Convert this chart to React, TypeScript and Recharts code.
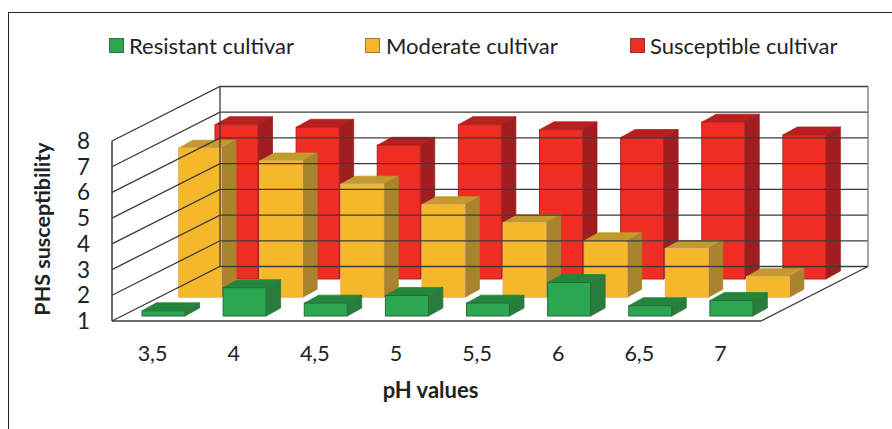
import React from 'react';
import { BarChart, Bar, XAxis, YAxis, ReferenceLine, Legend } from 'recharts';

const categories = ['3,5', '4', '4,5', '5', '5,5', '6', '6,5', '7'];
const resistant = [1.2, 2.1, 1.5, 1.8, 1.5, 2.3, 1.4, 1.6];
const moderate = [6.8, 6.3, 5.4, 4.6, 3.9, 3.2, 2.9, 1.8];
const susceptible = [7.0, 6.9, 6.2, 7.0, 6.8, 6.5, 7.1, 6.6];
const yTicks = [1, 2, 3, 4, 5, 6, 7, 8];
const legendOrder = ['Resistant cultivar', 'Moderate cultivar', 'Susceptible cultivar'];

const rows = categories.map((c, i) => ({
  c,
  resistant: resistant[i],
  moderate: moderate[i],
  susceptible: susceptible[i],
}));

const FONT = 'Lato, sans-serif';
const WALL_DX = 108;
const WALL_DY = 54.5;
const DEPTH_DX = 14.5;
const DEPTH_DY = 8;
const GRID = '#3c3c3c';

const bar3D =
  (shiftX: number, shiftY: number, face: string, top: string, side: string, edge: string) =>
  (p: any) => {
    const x = p.x + shiftX;
    const y = p.y + shiftY;
    const w = p.width;
    const h = p.height;
    const pts = (a: number[][]) => a.map((q) => q.join(',')).join(' ');
    return (
      <g>
        <polygon
          points={pts([[x, y], [x + DEPTH_DX, y - DEPTH_DY], [x + w + DEPTH_DX, y - DEPTH_DY], [x + w, y]])}
          fill={top}
          stroke={top}
          strokeWidth={0.8}
        />
        <polygon
          points={pts([[x + w, y], [x + w + DEPTH_DX, y - DEPTH_DY], [x + w + DEPTH_DX, y + h - DEPTH_DY], [x + w, y + h]])}
          fill={side}
          stroke={side}
          strokeWidth={0.8}
        />
        <rect x={x} y={y} width={w} height={h} fill={face} stroke={edge} strokeWidth={1} />
      </g>
    );
  };

const gridShape = (p: any) => {
  const { x1, y1, x2 } = p;
  return (
    <polyline
      points={`${x1},${y1} ${x1 + WALL_DX},${y1 - WALL_DY} ${x2 + WALL_DX - 1},${y1 - WALL_DY}`}
      fill="none"
      stroke={GRID}
      strokeWidth={1.3}
    />
  );
};

const floorShape = (p: any) => {
  const { x1, y1, x2 } = p;
  const by = y1 - WALL_DY;
  return (
    <g fill="none" stroke={GRID} strokeWidth={1.3}>
      <polyline points={`${x1},${y1} ${x1 + WALL_DX},${by} ${x2 + WALL_DX - 1},${by} ${x2},${y1}`} />
      <line x1={x1 + WALL_DX} y1={by} x2={x1 + WALL_DX} y2={by - 180} />
      <line x1={x2 + WALL_DX - 1} y1={by} x2={x2 + WALL_DX - 1} y2={by - 180} stroke="#777" />
    </g>
  );
};

const legendPos = [
  { swatch: 108.5, text: 129 },
  { swatch: 365, text: 386 },
  { swatch: 630, text: 650 },
];

const legendContent = (p: any) => {
  const items = legendOrder.map((n) => (p.payload || []).find((e: any) => e.value === n)).filter(Boolean);
  return (
    <div style={{ position: 'relative', width: 892, height: 40 }}>
      {items.map((it: any, i: number) => (
        <React.Fragment key={it.value}>
          <div
            style={{
              position: 'absolute',
              left: legendPos[i].swatch,
              top: 8,
              width: 15,
              height: 15,
              background: it.color,
              border: '1px solid rgba(60,60,60,0.5)',
              boxSizing: 'border-box',
            }}
          />
          <div
            style={{
              position: 'absolute',
              left: legendPos[i].text,
              top: 0,
              lineHeight: '32px',
              fontFamily: FONT,
              fontSize: 22,
              color: '#222',
              whiteSpace: 'nowrap',
            }}
          >
            {it.value}
          </div>
        </React.Fragment>
      ))}
    </div>
  );
};

export default function App() {
  return (
    <div style={{ position: 'absolute', left: 0, top: 0, width: 892, height: 429, background: '#fff', overflow: 'hidden' }}>
      <div
        style={{
          position: 'absolute',
          left: 8,
          top: 12,
          width: 900,
          height: 430,
          borderLeft: '1.5px solid #222',
          borderTop: '1.5px solid #222',
        }}
      />
      <BarChart
        width={892}
        height={429}
        data={rows}
        margin={{ top: 141, right: 131, bottom: 0, left: 0 }}
        barSize={43}
        barGap={-43}
        style={{ position: 'absolute', left: 0, top: 0 }}
      >
        <XAxis
          dataKey="c"
          height={108}
          axisLine={{ stroke: GRID, strokeWidth: 1.5 }}
          tickLine={false}
          tickMargin={19}
          tick={{ fontFamily: FONT, fontSize: 21.5, fill: '#222' }}
          label={{
            value: 'pH values',
            position: 'insideBottom',
            offset: 31,
            dx: -6,
            style: { fontFamily: FONT, fontSize: 22, fontWeight: 700, fill: '#222' },
          }}
        />
        <YAxis
          width={112}
          domain={[1, 8]}
          ticks={yTicks}
          interval={0}
          axisLine={{ stroke: GRID, strokeWidth: 1.5 }}
          tickLine={false}
          tickMargin={16}
          tick={{ fontFamily: FONT, fontSize: 22.5, fill: '#222' }}
          label={{
            value: 'PHS susceptibility',
            angle: -90,
            position: 'insideLeft',
            offset: 42,
            dy: -2,
            style: { fontFamily: FONT, fontSize: 21.5, fontWeight: 700, fill: '#222', textAnchor: 'middle' },
          }}
        />
        {yTicks.slice(1).map((t) => (
          <ReferenceLine key={t} y={t} shape={gridShape} />
        ))}
        <ReferenceLine y={1} shape={floorShape} />
        <Bar
          dataKey="susceptible"
          name="Susceptible cultivar"
          fill="#EE2D25"
          isAnimationActive={false}
          shape={bar3D(84, -42, '#EE2D25', '#B81F20', '#A01E20', '#B5231F')}
        />
        <Bar
          dataKey="moderate"
          name="Moderate cultivar"
          fill="#F5B82A"
          isAnimationActive={false}
          shape={bar3D(47.5, -23.7, '#F5B82A', '#C49A2E', '#A8842C', '#E8B46A')}
        />
        <Bar
          dataKey="resistant"
          name="Resistant cultivar"
          fill="#2BA84F"
          isAnimationActive={false}
          shape={bar3D(11, -5, '#2BA84F', '#24853C', '#2A7C3C', '#2A6A3A')}
        />
        <Legend
          layout="horizontal"
          verticalAlign="middle"
          align="center"
          content={legendContent}
          wrapperStyle={{ position: 'absolute', left: 0, top: 30, width: 892, height: 40, margin: 0 }}
        />
      </BarChart>
    </div>
  );
}
